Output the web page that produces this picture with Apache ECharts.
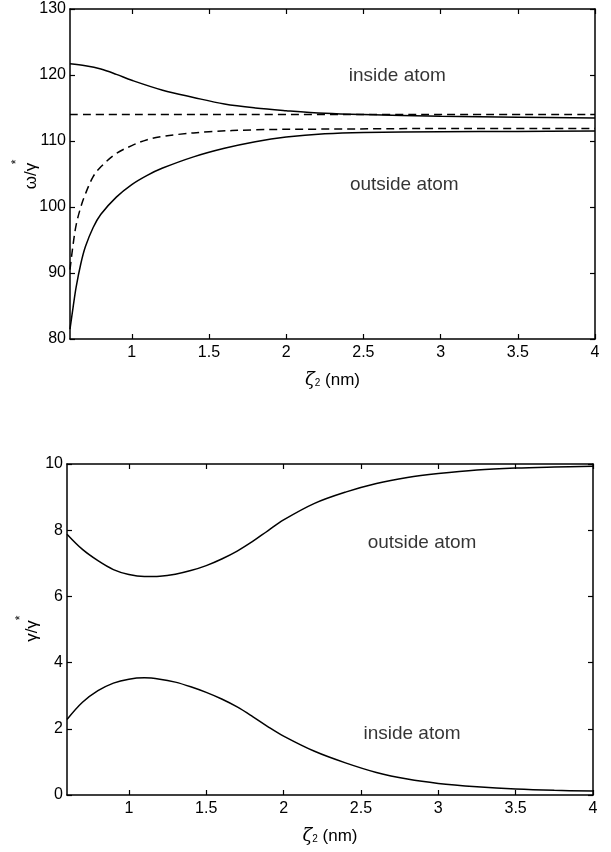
<!DOCTYPE html>
<html>
<head>
<meta charset="utf-8">
<script src="https://cdn.jsdelivr.net/npm/echarts@6/dist/echarts.min.js"></script>
<style>
  html, body { margin: 0; padding: 0; background: #fff; }
  #chart { width: 611px; height: 852px; }
</style>
</head>
<body>
<div id="chart"></div>
<script>
// Resonance frequency (top) and linewidth (bottom) versus ζ2, inside and outside the atom

const xTicks = [1, 1.5, 2, 2.5, 3, 3.5, 4];
const freqTicks = [80, 90, 100, 110, 120, 130];
const widthTicks = [0, 2, 4, 6, 8, 10];

// ω/γ* — solid curves
const freqInsideX = [0.6, 0.7, 0.8, 0.9, 1.0, 1.2, 1.4, 1.6, 1.8, 2.0, 2.25, 2.5, 3.0, 3.5, 4.0];
const freqInsideY = [121.7, 121.4, 120.9, 120.1, 119.2, 117.7, 116.6, 115.6, 115.0, 114.6, 114.2, 114.0, 113.75, 113.6, 113.5];

const freqOutsideX = [0.6, 0.62, 0.64, 0.67, 0.7, 0.75, 0.8, 0.9, 1.0, 1.1, 1.2, 1.4, 1.6, 1.8, 2.0, 2.25, 2.5, 3.0, 3.5, 4.0];
const freqOutsideY = [81.5, 84.8, 87.9, 91.4, 94.0, 96.9, 98.9, 101.5, 103.4, 104.8, 105.9, 107.6, 108.9, 109.9, 110.6, 111.1, 111.3, 111.4, 111.45, 111.5];

// ω/γ* — dashed curves
const freqDashUpperX = [0.6, 4.0];
const freqDashUpperY = [114.0, 114.0];

const freqDashLowerX = [0.6, 0.62, 0.64, 0.67, 0.7, 0.75, 0.8, 0.9, 1.0, 1.1, 1.2, 1.3, 1.5, 1.8, 2.2, 2.6, 3.0, 4.0];
const freqDashLowerY = [90.5, 94.3, 97.3, 100.0, 102.0, 104.6, 106.1, 108.1, 109.3, 110.2, 110.7, 111.0, 111.4, 111.7, 111.8, 111.85, 111.9, 111.9];

// γ/γ*
const widthX = [0.6, 0.7, 0.8, 0.9, 1.0, 1.1, 1.2, 1.3, 1.4, 1.5, 1.6, 1.7, 1.8, 1.9, 2.0, 2.2, 2.4, 2.6, 2.8, 3.0, 3.25, 3.5, 3.75, 4.0];
const widthOutsideY = [7.88, 7.42, 7.08, 6.81, 6.66, 6.60, 6.61, 6.67, 6.78, 6.93, 7.13, 7.37, 7.66, 7.99, 8.31, 8.81, 9.15, 9.41, 9.59, 9.71, 9.82, 9.88, 9.91, 9.93];
const widthInsideY = [2.28, 2.80, 3.15, 3.38, 3.50, 3.54, 3.50, 3.41, 3.27, 3.10, 2.90, 2.66, 2.37, 2.06, 1.78, 1.32, 0.97, 0.68, 0.48, 0.35, 0.25, 0.18, 0.14, 0.12];

// Region annotations: [text, x, y]
const freqNotes = [['inside atom', 2.72, 119.9], ['outside atom', 2.765, 103.3]];
const widthNotes = [['outside atom', 2.895, 7.62], ['inside atom', 2.83, 1.85]];

const FONT = "'Liberation Sans', Arial, Helvetica, sans-serif";
const INK = '#000';

const zip = (xs, ys) => xs.map((x, i) => [x, ys[i]]);

function frameAxis(extra) {
  return Object.assign({
    axisLine: { show: true, onZero: false, lineStyle: { color: INK, width: 1.5 } },
    axisTick: { show: true, inside: true, length: 5, lineStyle: { color: INK, width: 1.2 } },
    axisLabel: { show: false },
    splitLine: { show: false }
  }, extra);
}

function xAxisMain(gridIndex) {
  return frameAxis({
    type: 'value', gridIndex, position: 'bottom', min: 0.6, max: 4,
    axisTick: { show: true, inside: true, length: 5, customValues: xTicks, lineStyle: { color: INK, width: 1.2 } },
    axisLabel: {
      show: true, customValues: xTicks, margin: 6, color: INK, fontSize: 16, fontFamily: FONT,
      formatter: v => String(v)
    },
    name: '{z|ζ}{s|2} (nm)',
    nameLocation: 'middle',
    nameGap: 32,
    nameTextStyle: {
      color: INK, fontSize: 17, fontFamily: FONT,
      rich: {
        z: { fontSize: 18, fontStyle: 'italic', fontFamily: 'DejaVu Serif', color: INK },
        s: { fontSize: 10, fontFamily: FONT, color: INK, padding: [6, 0, 0, 0] }
      }
    }
  });
}

function xAxisTop(gridIndex) {
  return frameAxis({
    type: 'value', gridIndex, position: 'top', min: 0.6, max: 4,
    axisTick: { show: true, inside: true, length: 5, customValues: xTicks, lineStyle: { color: INK, width: 1.2 } }
  });
}

function yAxisMain(gridIndex, min, max, interval) {
  return frameAxis({
    type: 'value', gridIndex, position: 'left', min, max, interval,
    axisLabel: { show: true, margin: 4, color: INK, fontSize: 16, fontFamily: FONT }
  });
}

function yAxisRight(gridIndex, min, max, interval) {
  return frameAxis({ type: 'value', gridIndex, position: 'right', min, max, interval });
}

function curve(data, xi, yi, dashed) {
  return {
    type: 'line', xAxisIndex: xi, yAxisIndex: yi, data,
    smooth: 0.35, showSymbol: false, symbol: 'none', silent: true,
    lineStyle: { color: INK, width: 1.5, type: dashed ? [8, 5] : 'solid' },
    z: 3
  };
}

function notes(list, xi, yi) {
  return {
    type: 'scatter', xAxisIndex: xi, yAxisIndex: yi, silent: true,
    symbolSize: 1, itemStyle: { color: 'rgba(0,0,0,0)' },
    data: list.map(n => ({ value: [n[1], n[2]], name: n[0] })),
    label: {
      show: true, position: 'inside', formatter: p => p.name,
      color: INK, textBorderWidth: 0, fontSize: 19, fontFamily: FONT
    }
  };
}

// Vertical axis titles, written bottom-to-top with a raised star
function axisTitle(text, cx, cy, starX, starY) {
  return [
    {
      type: 'text', x: cx, y: cy, rotation: Math.PI / 2,
      style: { text, fill: INK, font: "17px " + FONT, align: 'center', verticalAlign: 'middle' }
    },
    {
      type: 'text', x: starX, y: starY, rotation: Math.PI / 2,
      style: { text: '*', fill: INK, font: "12px " + FONT, align: 'center', verticalAlign: 'middle' }
    }
  ];
}

const chart = echarts.init(document.getElementById('chart'), null, { renderer: 'canvas' });

chart.setOption({
  backgroundColor: '#fff',
  animation: false,
  grid: [
    { left: 70, top: 9, width: 525, height: 330 },
    { left: 67, top: 464, width: 526, height: 331 }
  ],
  xAxis: [xAxisMain(0), xAxisTop(0), xAxisMain(1), xAxisTop(1)],
  yAxis: [
    yAxisMain(0, freqTicks[0], freqTicks[freqTicks.length - 1], 10),
    yAxisRight(0, freqTicks[0], freqTicks[freqTicks.length - 1], 10),
    yAxisMain(1, widthTicks[0], widthTicks[widthTicks.length - 1], 2),
    yAxisRight(1, widthTicks[0], widthTicks[widthTicks.length - 1], 2)
  ],
  graphic: [
    ...axisTitle('ω/γ', 31, 176, 17, 162),
    ...axisTitle('γ/γ', 32, 631, 21, 618)
  ],
  series: [
    curve(zip(freqInsideX, freqInsideY), 0, 0, false),
    curve(zip(freqOutsideX, freqOutsideY), 0, 0, false),
    curve(zip(freqDashUpperX, freqDashUpperY), 0, 0, true),
    curve(zip(freqDashLowerX, freqDashLowerY), 0, 0, true),
    notes(freqNotes, 0, 0),
    curve(zip(widthX, widthOutsideY), 2, 2, false),
    curve(zip(widthX, widthInsideY), 2, 2, false),
    notes(widthNotes, 2, 2)
  ]
});
</script>
</body>
</html>
